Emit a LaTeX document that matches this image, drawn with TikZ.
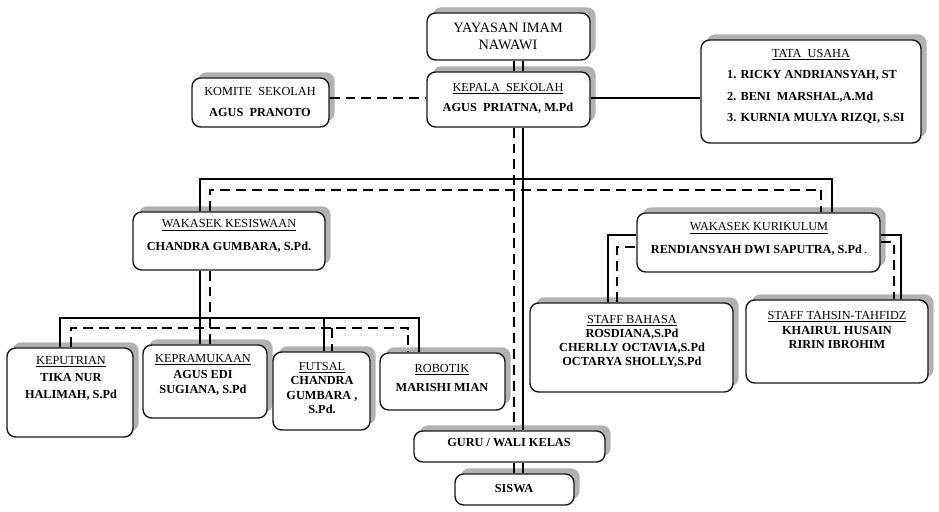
\documentclass[tikz,border=0pt]{standalone}
\usepackage{fontspec}
\setmainfont{Liberation Serif}
\usetikzlibrary{shadows,fit}

\begin{document}
\begin{tikzpicture}[x=0.03cm, y=-0.03cm,
    box/.style={draw=black!90, line width=1.2pt, rounded corners=2.6mm, fill=white,
      inner sep=0pt, drop shadow={shadow xshift=1.7mm, shadow yshift=1.7mm,
      fill=black!30, opacity=1}},
    txt/.style={font=\fontsize{10.5}{#1}\selectfont, align=center, inner sep=0pt},
    txt/.default=14pt,
    link/.style={line width=2.3pt},
    dlink/.style={line width=2.3pt, dash pattern=on 8.5pt off 5pt},
  ]
    \useasboundingbox (0,0) rectangle (939,512);

    % Top level
    \node[box, fit={(427,13) (590,60)}] (yayasan) {};
    \node[box, fit={(192,78) (329,127)}] (komite) {};
    \node[box, fit={(427,72) (590,127)}] (kepala) {};
    \node[box, fit={(701,40) (921,143)}] (tata) {};
    % Wakasek
    \node[box, fit={(133,212) (325,270)}] (kesiswaan) {};
    \node[box, fit={(637,213) (880,272)}] (kurikulum) {};
    % Ekskul
    \node[box, fit={(7,348) (133,437)}] (keputrian) {};
    \node[box, fit={(143,345) (267,418)}] (pramuka) {};
    \node[box, fit={(273,352) (370,430)}] (futsal) {};
    \node[box, fit={(380,353) (505,410)}] (robotik) {};
    % Staff
    \node[box, fit={(530,303) (733,392)}] (bahasa) {};
    \node[box, fit={(746,300) (928,383)}] (tahsin) {};
    % Guru, siswa
    \node[box, fit={(414,431) (605,462)}] (guru) {};
    \node[box, fit={(455,474) (574,505)}] (siswa) {};

    % Texts
    \node[txt, font=\fontsize{12.2}{14.5}\selectfont] (yayasan-t) at (508,36) {YAYASAN IMAM\\NAWAWI};
    \node[txt=18pt] (komite-t) at (260,102) {KOMITE\ \ SEKOLAH\\\textbf{AGUS\ \ PRANOTO}};
    \node[txt=17pt] (kepala-t) at (508,98)
      {\underline{KEPALA\ \ SEKOLAH}\\\textbf{AGUS\ \ PRIATNA, M.Pd}};
    \node[txt] (tata-t) at (811,55) {\underline{TATA\ \ USAHA}};
    \node[txt=18.5pt, align=left, anchor=west] (tata-l) at (727,97)
      {\textbf{1. RICKY ANDRIANSYAH, ST}\\\textbf{2. BENI\ \ MARSHAL,A.Md}\\
       \textbf{3. KURNIA MULYA RIZQI, S.SI}};
    \node[txt=19pt] (kesiswaan-t) at (229,236)
      {\underline{WAKASEK KESISWAAN}\\\textbf{CHANDRA GUMBARA, S.Pd.}};
    \node[txt=19pt] (kurikulum-t) at (759,239)
      {\underline{WAKASEK KURIKULUM}\\\textbf{RENDIANSYAH DWI SAPUTRA, S.Pd}\,.};
    \node[txt=14.5pt] (keputrian-t) at (71,378)
      {\underline{KEPUTRIAN}\\\textbf{TIKA NUR}\\\textbf{HALIMAH, S.Pd}};
    \node[txt=13pt] (pramuka-t) at (203,375)
      {\underline{KEPRAMUKAAN}\\\textbf{AGUS EDI}\\\textbf{SUGIANA, S.Pd}};
    \node[txt=12.5pt] (futsal-t) at (322,388)
      {\underline{FUTSAL}\\\textbf{CHANDRA}\\\textbf{GUMBARA ,}\\\textbf{S.Pd.}};
    \node[txt=17pt] (robotik-t) at (442,378) {\underline{ROBOTIK}\\\textbf{MARISHI MIAN}};
    \node[txt=12pt] (bahasa-t) at (632,341)
      {\underline{STAFF BAHASA}\\\textbf{ROSDIANA,S.Pd}\\\textbf{CHERLLY OCTAVIA,S.Pd}\\
       \textbf{OCTARYA SHOLLY,S.Pd}};
    \node[txt=12.5pt] (tahsin-t) at (837,330)
      {\underline{STAFF TAHSIN-TAHFIDZ}\\\textbf{KHAIRUL HUSAIN}\\\textbf{RIRIN IBROHIM}};
    \node[txt] (guru-t) at (509,443) {\textbf{GURU / WALI KELAS}};
    \node[txt] (siswa-t) at (514,489) {\textbf{SISWA}};

    % Trunk
    \coordinate (tr) at (523,0);
    \coordinate (td) at (514,0);
    \draw[link] (yayasan.south -| tr) -- (kepala.north -| tr);
    \draw[dlink] (yayasan.south -| td) -- (kepala.north -| td);
    \draw[link] (kepala.south -| tr) -- (guru.north -| tr);
    \draw[dlink] (kepala.south -| td) -- (guru.north -| td);
    \draw[link] (guru.south -| tr) -- (siswa.north -| tr);
    \draw[dlink] (guru.south -| td) -- (siswa.north -| td);
    \coordinate (hk) at (0,98);
    \draw[dlink] (komite.east |- hk) -- (kepala.west |- hk);
    \draw[link] (kepala.east |- hk) -- (tata.west |- hk);

    % Wakasek bus
    \coordinate (b1) at (200,179);
    \coordinate (b2) at (832,179);
    \coordinate (d1) at (210,190);
    \coordinate (d2) at (821,190);
    \draw[link] (kesiswaan.north -| b1) -- (b1) -- (b2) -- (kurikulum.north -| b2);
    \draw[dlink] (kesiswaan.north -| d1) -- (d1) -- (d2) -- (kurikulum.north -| d2);

    % Ekskul bus
    \draw[link] (kesiswaan.south -| b1) -- (pramuka.north -| b1);
    \draw[dlink] (kesiswaan.south -| d1) -- (pramuka.north -| d1);
    \coordinate (e1) at (60,318);
    \coordinate (e2) at (419,318);
    \coordinate (e3) at (324,318);
    \coordinate (f1) at (71,328);
    \coordinate (f2) at (408,328);
    \coordinate (f3) at (332,328);
    \draw[link] (keputrian.north -| e1) -- (e1) -- (e2) -- (robotik.north -| e2);
    \draw[link] (e3) -- (futsal.north -| e3);
    \draw[dlink] (keputrian.north -| f1) -- (f1) -- (f2) -- (robotik.north -| f2);
    \draw[dlink] (f3) -- (futsal.north -| f3);

    % Staff links
    \coordinate (g1) at (608,235);
    \coordinate (g2) at (901,235);
    \coordinate (h1) at (617,247);
    \coordinate (h2) at (894,242);
    \draw[link] (bahasa.north -| g1) -- (g1) -- (kurikulum.west |- g1);
    \draw[link] (kurikulum.east |- g2) -- (g2) -- (tahsin.north -| g2);
    \draw[dlink] (bahasa.north -| h1) -- (h1) -- (kurikulum.west |- h1);
    \draw[dlink] (kurikulum.east |- h2) -- (h2) -- (tahsin.north -| h2);
\end{tikzpicture}
\end{document}
